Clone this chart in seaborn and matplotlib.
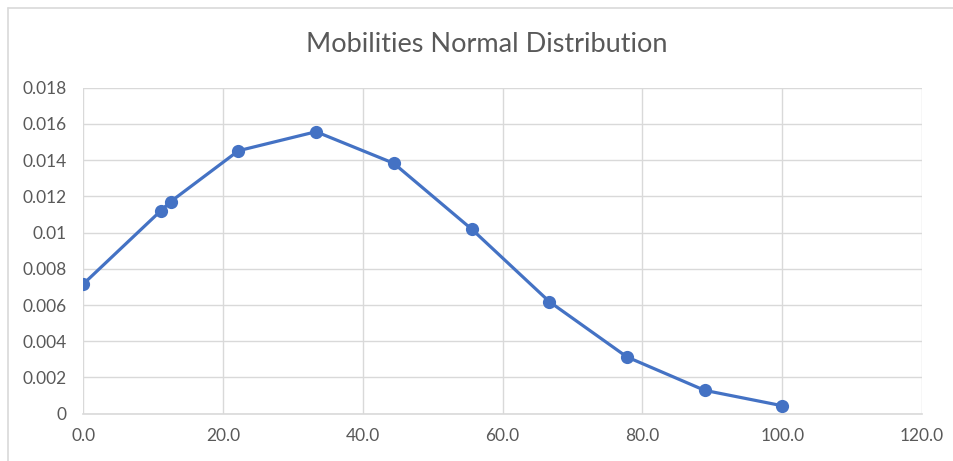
import pandas as pd
import matplotlib.pyplot as plt
import seaborn as sns
from matplotlib.lines import Line2D

# Values
mobility = [0.0, 11.1, 12.5, 22.2, 33.3, 44.4, 55.6, 66.7, 77.8, 88.9, 100.0]
density = [0.00716, 0.01121, 0.01171, 0.01452, 0.01557, 0.01383,
           0.01018, 0.00618, 0.00313, 0.00129, 0.00044]
x_ticks = [0, 20, 40, 60, 80, 100, 120]
y_ticks = [0, 0.002, 0.004, 0.006, 0.008, 0.01, 0.012, 0.014, 0.016, 0.018]
y_labels = ['0', '0.002', '0.004', '0.006', '0.008', '0.01',
            '0.012', '0.014', '0.016', '0.018']

df = pd.DataFrame({'mobility': mobility, 'density': density})

sns.set_style('white')
plt.rcParams['font.family'] = ['Lato', 'DejaVu Sans']

text_grey = '#595959'
grid_grey = '#d9d9d9'
blue = '#4472C4'

fig = plt.figure(figsize=(9.54, 4.61), dpi=100)
ax = fig.add_axes([83.3 / 954, 1 - 413.7 / 461, (922 - 83.3) / 954, (413.7 - 87.7) / 461])

sns.lineplot(data=df, x='mobility', y='density', ax=ax, color=blue,
             linewidth=2.3, marker='o', markersize=9.5, markeredgewidth=0)

ax.set_xlim(0, 120)
ax.set_ylim(0, 0.018)
ax.set_xticks(x_ticks)
ax.set_xticklabels([f'{t:.1f}' for t in x_ticks])
ax.set_yticks(y_ticks)
ax.set_yticklabels(y_labels)
ax.grid(True, color=grid_grey, linewidth=1.0)
ax.set_axisbelow(True)
for side in ['top', 'right', 'left']:
    ax.spines[side].set_visible(False)
ax.spines['bottom'].set_color(grid_grey)
ax.spines['bottom'].set_linewidth(1.2)
ax.tick_params(axis='both', length=0, labelsize=12.5, colors=text_grey)
ax.tick_params(axis='x', pad=10)
ax.tick_params(axis='y', pad=12)
ax.set_xlabel('')
ax.set_ylabel('')

fig.text(487 / 954, 1 - 44 / 461, 'Mobilities Normal Distribution',
         ha='center', va='center', fontsize=19.5, color=text_grey)

# chart area border (left and top edges visible in the crop)
fig.add_artist(Line2D([8 / 954, 8 / 954], [0, 1 - 8 / 461], color=grid_grey, linewidth=1.2))
fig.add_artist(Line2D([8 / 954, 1], [1 - 8 / 461, 1 - 8 / 461], color=grid_grey, linewidth=1.2))

fig.savefig('out.png', dpi=100)
